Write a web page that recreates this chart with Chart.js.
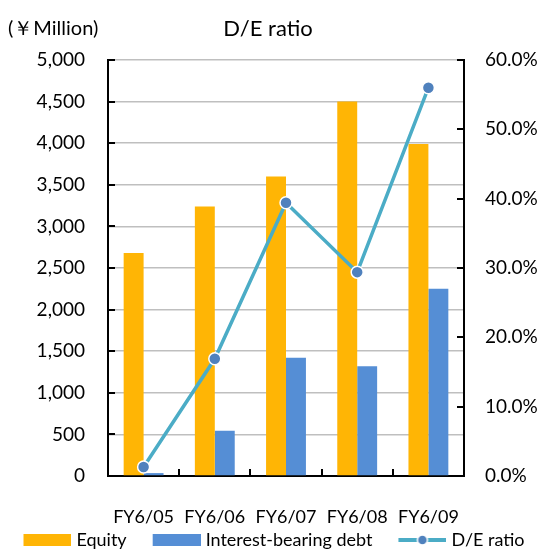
<!DOCTYPE html>
<html>
<head>
<meta charset="utf-8">
<script src="https://cdn.jsdelivr.net/npm/chart.js@4/dist/chart.umd.min.js"></script>
<style>
html,body{margin:0;padding:0;background:#fff;}
#wrap{width:548px;height:554px;position:relative;}
</style>
</head>
<body>
<div id="wrap"><canvas id="c" width="548" height="554"></canvas></div>
<script>
const categories = ["FY6/05", "FY6/06", "FY6/07", "FY6/08", "FY6/09"];
const equity = [2680, 3240, 3600, 4500, 3990];
const debt = [35, 545, 1420, 1320, 2250];
const deRatio = [1.3, 16.9, 39.4, 29.4, 56.0];
const seriesNames = ["Equity", "Interest-bearing debt", "D/E ratio"];
const unitLabel = "(\uFFE5Million)";
const titleText = "D/E ratio";

const FONT = "Lato, 'Open Sans', sans-serif";
const C_EQ = "#FFB505", C_DEBT = "#558ED5", C_LINE = "#4BACC6", C_PT = "#4F81BD";

// legend icons: 68px wide, swatch in the right 48px
function rectIcon(color) {
  const cv = document.createElement('canvas');
  cv.width = 68; cv.height = 12;
  const g = cv.getContext('2d');
  g.fillStyle = color; g.fillRect(20, 0, 48, 12);
  return cv;
}
function lineIcon() {
  const cv = document.createElement('canvas');
  cv.width = 68; cv.height = 12;
  const g = cv.getContext('2d');
  g.strokeStyle = C_LINE; g.lineWidth = 4;
  g.beginPath(); g.moveTo(20, 6); g.lineTo(68, 6); g.stroke();
  g.fillStyle = C_PT; g.strokeStyle = '#fff'; g.lineWidth = 1.5;
  g.beginPath(); g.arc(44, 6, 5, 0, Math.PI * 2); g.fill(); g.stroke();
  return cv;
}
const icons = [rectIcon(C_EQ), rectIcon(C_DEBT), lineIcon()];

const extras = {
  id: 'extras',
  afterLayout(chart) {
    const lg = chart.legend;
    if (lg) { lg.top += 5; lg.bottom += 5; lg.left -= 8; lg.right -= 8; }
    const x = chart.scales.x;
    x.bottom = Math.max(x.bottom, x.top + 58);
  },
  afterDraw(chart) {
    const ctx = chart.ctx, a = chart.chartArea;
    const y = chart.scales.y, y1 = chart.scales.y1, x = chart.scales.x;
    ctx.save();
    ctx.strokeStyle = '#000'; ctx.lineWidth = 2;
    y.ticks.forEach(t => {
      const p = Math.round(y.getPixelForValue(t.value));
      ctx.beginPath(); ctx.moveTo(a.left, p); ctx.lineTo(a.left + 7, p); ctx.stroke();
    });
    y1.ticks.forEach(t => {
      const p = Math.round(y1.getPixelForValue(t.value));
      ctx.beginPath(); ctx.moveTo(a.right - 7, p); ctx.lineTo(a.right, p); ctx.stroke();
    });
    for (let i = 0; i < categories.length - 1; i++) {
      const p = Math.round((x.getPixelForValue(i) + x.getPixelForValue(i + 1)) / 2);
      ctx.beginPath(); ctx.moveTo(p, a.bottom - 7); ctx.lineTo(p, a.bottom); ctx.stroke();
    }
    ctx.fillStyle = '#000';
    ctx.textBaseline = 'middle';
    ctx.textAlign = 'left';
    ctx.font = "20px " + FONT;
    ctx.fillText(unitLabel, 8, 29);
    ctx.textAlign = 'center';
    ctx.font = "22px " + FONT;
    ctx.fillText(titleText, 268, 29);
    ctx.restore();
  }
};

new Chart(document.getElementById('c'), {
  data: {
    labels: categories,
    datasets: [
      { type: 'bar', label: seriesNames[0], data: equity, backgroundColor: C_EQ, yAxisID: 'y', order: 1,
        barPercentage: 1, categoryPercentage: 0.56 },
      { type: 'bar', label: seriesNames[1], data: debt, backgroundColor: C_DEBT, yAxisID: 'y', order: 1,
        barPercentage: 1, categoryPercentage: 0.56 },
      { type: 'line', label: seriesNames[2], data: deRatio, yAxisID: 'y1', order: 0,
        borderColor: C_LINE, borderWidth: 3.5, pointRadius: 6, pointBackgroundColor: C_PT,
        pointBorderColor: '#fff', pointBorderWidth: 1.5, tension: 0 }
    ]
  },
  options: {
    responsive: false,
    animation: false,
    devicePixelRatio: 1,
    layout: { padding: { left: 0, right: 0, top: 60, bottom: 0 } },
    plugins: {
      tooltip: { enabled: false },
      title: { display: false },
      legend: {
        position: 'bottom',
        labels: {
          color: '#000', font: { family: FONT, size: 18 },
          usePointStyle: true, boxHeight: 12, pointStyleWidth: 60, padding: 10,
          generateLabels(chart) {
            return chart.data.datasets.map((d, i) => ({
              text: d.label, datasetIndex: i, hidden: false,
              fillStyle: d.type === 'bar' ? d.backgroundColor : C_LINE,
              strokeStyle: 'rgba(0,0,0,0)',
              lineWidth: 0,
              pointStyle: icons[i],
              fontColor: '#000'
            }));
          }
        }
      }
    },
    scales: {
      x: {
        afterFit(s) { s.height = 40; },
        grid: { display: false, drawTicks: false },
        border: { display: true, color: '#000', width: 2 },
        ticks: { color: '#000', font: { family: FONT, size: 18 }, padding: 30, maxRotation: 0 }
      },
      y: {
        position: 'left', min: 0, max: 5000,
        afterFit(s) { s.width = 108; },
        grid: { color: '#BFBFBF', lineWidth: 1.5, drawTicks: false },
        border: { display: true, color: '#000', width: 2 },
        ticks: { stepSize: 500, color: '#000', font: { family: FONT, size: 19 }, padding: 23,
          callback: v => v.toLocaleString('en-US') }
      },
      y1: {
        position: 'right', min: 0, max: 60,
        afterFit(s) { s.width = 84; },
        grid: { display: false, drawTicks: false },
        border: { display: true, color: '#000', width: 2 },
        ticks: { stepSize: 10, color: '#000', font: { family: FONT, size: 19 }, padding: 21,
          callback: v => v.toFixed(1) + '%' }
      }
    }
  },
  plugins: [extras]
});
</script>
</body>
</html>
